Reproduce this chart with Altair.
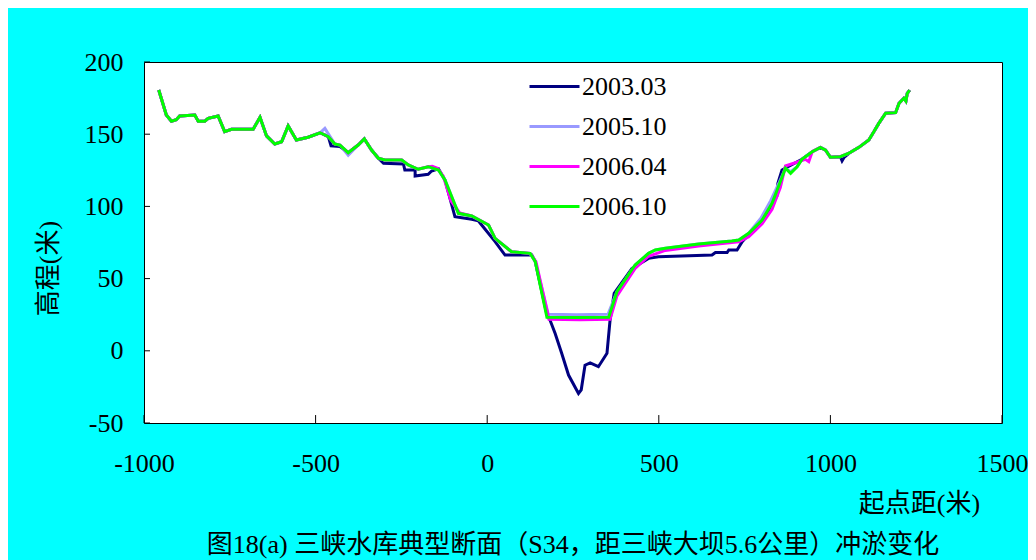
import altair as alt
import pandas as pd

series_names = ["2003.03", "2005.10", "2006.04", "2006.10"]
series_colors = ["#000080", "#9999FF", "#FF00FF", "#00FF00"]
x_ticks = [-1000, -500, 0, 500, 1000, 1500]
y_ticks = [-50, 0, 50, 100, 150, 200]

x_2003 = [-957, -935, -920, -906, -896, -852, -842, -823, -813, -784, -765, -745, -682, -662, -643,
          -619, -599, -580, -556, -522, -487, -463, -455, -429, -405, -376, -358, -337, -317, -302,
          -244, -240, -210, -210, -172, -162, -142, -123, -94, -45, -26, -16, 23, 52, 130,
          140, 174, 183, 198, 217, 237, 266, 274, 285, 300, 324, 349, 358, 370, 422,
          470, 499, 655, 665, 699, 704, 728, 743, 752, 781, 805, 825, 844, 847, 859,
          917, 947, 971, 986, 1000, 1029, 1034, 1040, 1054, 1083, 1112, 1127, 1141, 1161, 1190,
          1200, 1214, 1220, 1224, 1231]
y_2003 = [180.6, 163.3, 159, 160, 162.6, 163.3, 159, 159, 161, 162.6, 151.8, 153.4, 153.4, 161.7, 148.8,
          143.2, 144.8, 155.7, 146, 147.9, 151, 148.3, 142, 141.5, 137.2, 142.5, 146.7, 139, 133.3, 129.9,
          129.4, 125.2, 125.2, 121, 122.2, 124.5, 126, 118.3, 92.9, 91.1, 90.1, 87.1, 75.6, 66.3, 66.3,
          61.8, 25, 21.3, 12, -1.7, -16.8, -29.5, -27, -10, -8.4, -11, -1.7, 21.3, 39.8, 57,
          64, 65.2, 66.3, 68, 68, 69.8, 69.8, 75.6, 77.9, 83.7, 90.6, 99.8, 107.2, 116, 125.2,
          132.6, 137.9, 140.9, 139, 134, 134.4, 131.5, 134, 136.8, 140.9, 146, 151.8, 157.5, 164.5, 164.9,
          171.4, 174.9, 173, 178.3, 180.6]

x_2005 = [-957, -935, -920, -906, -896, -852, -842, -823, -813, -784, -765, -745, -682, -662, -643,
          -619, -599, -580, -556, -522, -487, -473, -444, -429, -405, -376, -358, -337, -317, -298,
          -249, -230, -201, -172, -142, -123, -84, -45, 4, 23, 71, 125, 140, 178, 260,
          352, 378, 431, 470, 490, 519, 616, 713, 733, 762, 798, 826, 852, 869, 884,
          903, 917, 947, 971, 986, 1000, 1029, 1054, 1083, 1112, 1127, 1141, 1161, 1190, 1200,
          1214, 1220, 1224, 1231]
y_2005 = [180.6, 163.3, 159, 160, 162.6, 163.3, 159, 159, 161, 162.6, 151.8, 153.4, 153.4, 161.7, 148.8,
          143.2, 144.8, 155.7, 146, 147.9, 151, 154, 143.2, 142.5, 135.5, 142.5, 146.7, 139, 133.3, 132.1,
          132.1, 128.7, 125.7, 127.5, 125.2, 118.3, 95.2, 93.4, 87.1, 77.9, 68.6, 67.5, 61.8, 25.3, 25.0,
          25.3, 40.9, 59.4, 67.5, 69.8, 71, 74, 76, 76.7, 81.4, 92, 104, 117.1, 126.4, 124,
          127.5, 132.6, 137.9, 140.9, 139, 134, 134.4, 136.8, 140.9, 146, 151.8, 157.5, 164.5, 164.9, 171.4,
          174.9, 173, 178.3, 180.6]

x_2006a = [-957, -935, -920, -906, -896, -852, -842, -823, -813, -784, -765, -745, -682, -662, -643,
           -619, -599, -580, -556, -522, -487, -463, -444, -429, -405, -376, -358, -337, -317, -298,
           -249, -230, -201, -172, -160, -145, -128, -106, -80, -45, 4, 23, 71, 125, 142,
           180, 270, 358, 378, 431, 470, 519, 616, 713, 733, 762, 801, 830, 854, 869,
           927, 937, 947, 971, 986, 1000, 1029, 1054, 1083, 1112, 1127, 1141, 1161, 1190, 1200,
           1214, 1220, 1224, 1231]
y_2006a = [180.6, 163.3, 159, 160, 162.6, 163.3, 159, 159, 161, 162.6, 151.8, 153.4, 153.4, 161.7, 148.8,
           143.2, 144.8, 155.7, 146, 147.9, 151, 148.3, 143.2, 142.5, 137.2, 142.5, 146.7, 139, 133.3, 132.1,
           132.1, 128.7, 125.7, 127.5, 127.8, 126.5, 121, 104, 95.5, 93.4, 87.1, 77.9, 68.6, 67.5, 61.8,
           21.8, 21.5, 21.8, 38, 57, 65.5, 69.5, 72.5, 75, 75.5, 79, 88, 98, 113, 128,
           132.6, 131, 137.9, 140.9, 139, 134, 134.4, 136.8, 140.9, 146, 151.8, 157.5, 164.5, 164.9, 171.4,
           174.9, 173, 178.3, 180.6]

x_2006b = [-957, -935, -920, -906, -896, -852, -842, -823, -813, -784, -765, -745, -682, -662, -643,
           -619, -599, -580, -556, -522, -487, -463, -444, -429, -405, -376, -358, -337, -317, -298,
           -249, -230, -201, -172, -142, -123, -84, -45, 4, 23, 71, 125, 140, 174, 260,
           354, 378, 431, 470, 490, 519, 616, 713, 733, 762, 801, 830, 854, 869, 884,
           903, 917, 947, 971, 986, 1000, 1029, 1054, 1083, 1112, 1127, 1141, 1161, 1190, 1200,
           1214, 1220, 1224, 1231]
y_2006b = [180.6, 163.3, 159, 160, 162.6, 163.3, 159, 159, 161, 162.6, 151.8, 153.4, 153.4, 161.7, 148.8,
           143.2, 144.8, 155.7, 146, 147.9, 151, 148.3, 143.2, 142.5, 137.2, 142.5, 146.7, 139, 133.3, 132.1,
           132.1, 128.7, 125.7, 127.5, 125.2, 118.3, 95.2, 93.4, 87.1, 77.9, 68.6, 67.5, 61.8, 23.2, 23.0,
           23.2, 40.9, 59.4, 67.5, 69.8, 71, 74, 76, 76.7, 81.4, 90.6, 102.1, 117.1, 126.4, 122.9,
           127.5, 132.6, 137.9, 140.9, 139, 134, 134.4, 136.8, 140.9, 146, 151.8, 157.5, 164.5, 164.9, 171.4,
           174.9, 173, 178.3, 180.6]

rows = []
for name, xs, ys in zip(series_names, [x_2003, x_2005, x_2006a, x_2006b],
                        [y_2003, y_2005, y_2006a, y_2006b]):
    for i, (a, b) in enumerate(zip(xs, ys)):
        rows.append({"series": name, "x": a, "y": b, "i": i})
df = pd.DataFrame(rows)

FONT = "Times New Roman, Liberation Serif, Noto Sans CJK SC, serif"
xscale = alt.Scale(domain=[-1000, 1500], nice=False, zero=False)
yscale = alt.Scale(domain=[-50, 200], nice=False, zero=False)

lines = alt.Chart(df).mark_line(strokeWidth=3).encode(
    x=alt.X("x:Q", scale=xscale,
            axis=alt.Axis(values=x_ticks, title="起点距(米)", grid=False, domain=False, ticks=False,
                          labelExpr="'' + datum.value",
                          labelFontSize=26, labelFont=FONT, labelColor="black",
                          labelBaseline="middle", labelPadding=40, labelFlush=False,
                          titleFont=FONT, titleFontSize=26, titleFontWeight="normal", titleColor="black",
                          titleX=775, titleY=80, titleBaseline="middle", titleAlign="center")),
    y=alt.Y("y:Q", scale=yscale,
            axis=alt.Axis(values=y_ticks, title="高程(米)", grid=False, domain=False, ticks=False,
                          labelExpr="'' + datum.value",
                          labelFontSize=26, labelFont=FONT, labelColor="black", labelPadding=21,
                          labelFlush=False,
                          titleFont=FONT, titleFontSize=26, titleFontWeight="normal", titleColor="black",
                          titleX=-96, titleY=206, titleAngle=270, titleBaseline="middle",
                          titleAlign="center")),
    color=alt.Color("series:N", scale=alt.Scale(domain=series_names, range=series_colors),
                    legend=alt.Legend(title=None, orient="none", legendX=384, legendY=-2,
                                      symbolType="stroke", symbolSize=2500, symbolStrokeWidth=3,
                                      labelFontSize=26, labelFont=FONT, labelColor="black",
                                      labelOffset=1, rowPadding=0, padding=0)),
    order="i:Q",
)

xt = pd.DataFrame({"t": x_ticks})
yt = pd.DataFrame({"t": y_ticks})
xticks = alt.Chart(xt).mark_rule(color="black", strokeWidth=1).encode(
    x=alt.X("t:Q", scale=xscale), y=alt.datum(-50), y2=alt.datum(-44.5))
yticks = alt.Chart(yt).mark_rule(color="black", strokeWidth=1).encode(
    y=alt.Y("t:Q", scale=yscale), x=alt.datum(-1000), x2=alt.datum(-982.5))

chart = alt.layer(lines, xticks, yticks).properties(
    width=858, height=361,
    autosize=alt.AutoSizeParams(type="none"),
    padding={"left": 136, "top": 54, "right": 26, "bottom": 137},
    background="#00FFFF",
    title=alt.TitleParams("图18(a) 三峡水库典型断面（S34，距三峡大坝5.6公里）冲淤变化", orient="bottom",
                          anchor="middle", font=FONT, fontSize=26, fontWeight="normal",
                          color="black", offset=16),
).configure_view(fill="white", stroke="black", strokeWidth=1)

chart.save("out.html", embed_options={"renderer": "svg", "actions": False})
